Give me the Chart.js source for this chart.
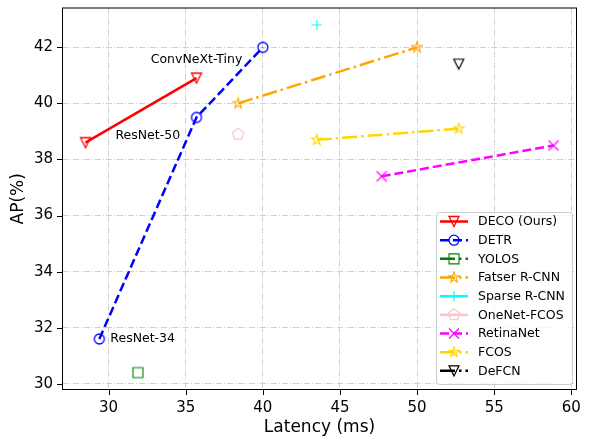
<!DOCTYPE html>
<html>
<head>
<meta charset="utf-8">
<script src="https://cdn.jsdelivr.net/npm/chart.js@4.4.0/dist/chart.umd.min.js"></script>
<style>
  html, body { margin: 0; padding: 0; background: #fff; }
  #wrap { width: 591px; height: 438px; }
</style>
</head>
<body>
<div id="wrap"><canvas id="c" width="591" height="438"></canvas></div>
<script>
// values
const xTicks = [30, 35, 40, 45, 50, 55, 60];
const yTicks = [30, 32, 34, 36, 38, 40, 42];

const decoLatency = [28.5, 35.7];
const decoAP = [38.6, 40.9];
const detrLatency = [29.4, 35.7, 40.0];
const detrAP = [31.6, 39.5, 42.0];
const yolosLatency = [31.9];
const yolosAP = [30.4];
const fasterLatency = [38.4, 50.0];
const fasterAP = [40.0, 42.0];
const sparseLatency = [43.5];
const sparseAP = [42.8];
const onenetLatency = [38.4];
const onenetAP = [38.9];
const retinaLatency = [47.7, 58.85];
const retinaAP = [37.4, 38.5];
const fcosLatency = [43.5, 52.7];
const fcosAP = [38.7, 39.1];
const defcnLatency = [52.7];
const defcnAP = [41.4];

const noteText = ['ConvNeXt-Tiny', 'ResNet-50', 'ResNet-34'];
const noteLatency = [35.7, 28.5, 29.4];
const noteAP = [40.9, 38.6, 31.6];

const FONT = "'DejaVu Sans', 'Liberation Sans', sans-serif";
const DASHED = [9, 4];
const DASHDOT = [15, 4, 2.5, 4];

function pts(xs, ys) {
  return xs.map((x, i) => ({ x: x, y: ys[i] }));
}

// matplotlib-like hollow markers
function drawMarker(g, kind, cx, cy, size, color, lw) {
  const r = size / 2;
  g.save();
  g.strokeStyle = color;
  g.lineWidth = lw;
  g.setLineDash([]);
  g.beginPath();
  if (kind === 'v') {
    g.moveTo(cx - r, cy - r); g.lineTo(cx + r, cy - r); g.lineTo(cx, cy + r); g.closePath();
  } else if (kind === 'o') {
    g.arc(cx, cy, r, 0, Math.PI * 2);
  } else if (kind === 's') {
    g.rect(cx - r, cy - r, size, size);
  } else if (kind === '+') {
    g.moveTo(cx - r, cy); g.lineTo(cx + r, cy); g.moveTo(cx, cy - r); g.lineTo(cx, cy + r);
  } else if (kind === 'x') {
    g.moveTo(cx - r, cy - r); g.lineTo(cx + r, cy + r); g.moveTo(cx + r, cy - r); g.lineTo(cx - r, cy + r);
  } else {
    const n = kind === '*' ? 10 : 5;
    for (let i = 0; i < n; i++) {
      const a = -Math.PI / 2 + i * Math.PI * 2 / n;
      const rr = (kind === '*' && i % 2) ? r * 0.381966 : r;
      const px = cx + rr * Math.cos(a), py = cy + rr * Math.sin(a);
      if (i === 0) g.moveTo(px, py); else g.lineTo(px, py);
    }
    g.closePath();
  }
  g.stroke();
  g.restore();
}

function makeMarker(kind, color, size, lw) {
  const dim = 2 * Math.ceil((size + lw * 2 + 2) / 2);
  const cv = document.createElement('canvas');
  cv.width = dim; cv.height = dim;
  drawMarker(cv.getContext('2d'), kind, dim / 2, dim / 2, size, color, lw);
  return cv;
}

const styles = [
  { label: 'DECO (Ours)', color: '#ff0000', dash: [], kind: 'v', size: 10, mlw: 1.3 },
  { label: 'DETR', color: '#0000ff', dash: DASHED, kind: 'o', size: 10, mlw: 1.3 },
  { label: 'YOLOS', color: '#008000', dash: DASHDOT, kind: 's', size: 10, mlw: 1.1 },
  { label: 'Fatser R-CNN', color: '#ffa500', dash: DASHDOT, kind: '*', size: 11, mlw: 1.1 },
  { label: 'Sparse R-CNN', color: '#00ffff', dash: [], kind: '+', size: 10, mlw: 1.2 },
  { label: 'OneNet-FCOS', color: '#ffc0cb', dash: [], kind: 'p', size: 12, mlw: 1.2 },
  { label: 'RetinaNet', color: '#ff00ff', dash: DASHED, kind: 'x', size: 10, mlw: 1.2 },
  { label: 'FCOS', color: '#ffd700', dash: DASHDOT, kind: '*', size: 11, mlw: 1.1 },
  { label: 'DeFCN', color: '#000000', dash: DASHDOT, kind: 'v', size: 10, mlw: 1.2 }
];
const seriesData = [
  pts(decoLatency, decoAP), pts(detrLatency, detrAP), pts(yolosLatency, yolosAP),
  pts(fasterLatency, fasterAP), pts(sparseLatency, sparseAP), pts(onenetLatency, onenetAP),
  pts(retinaLatency, retinaAP), pts(fcosLatency, fcosAP), pts(defcnLatency, defcnAP)
];

const datasets = styles.map((s, i) => ({
  label: s.label,
  data: seriesData[i],
  showLine: true,
  borderColor: s.color,
  borderWidth: 2.5,
  borderDash: s.dash,
  backgroundColor: s.color,
  pointStyle: makeMarker(s.kind, s.color, s.size, s.mlw),
  pointRadius: 5,
  pointHoverRadius: 5
}));

const extras = {
  id: 'extras',
  afterDatasetsDraw(chart) {
    const { ctx, chartArea: a, scales: { x, y } } = chart;
    ctx.save();
    // annotations
    ctx.font = '12.5px ' + FONT;
    ctx.fillStyle = '#000';
    ctx.textBaseline = 'middle';
    const offs = [[0, -18, 'center'], [30, -7, 'left'], [11, 0, 'left']];
    noteText.forEach((t, i) => {
      ctx.textAlign = offs[i][2];
      ctx.fillText(t, x.getPixelForValue(noteLatency[i]) + offs[i][0], y.getPixelForValue(noteAP[i]) + offs[i][1]);
    });
    // frame and tick marks
    ctx.strokeStyle = '#000';
    ctx.lineWidth = 1;
    ctx.strokeRect(a.left + 0.5, a.top + 0.5, a.right - a.left - 1, a.bottom - a.top - 1);
    ctx.beginPath();
    xTicks.forEach(v => {
      const p = Math.round(x.getPixelForValue(v)) + 0.5;
      ctx.moveTo(p, a.bottom); ctx.lineTo(p, a.bottom + 5);
    });
    yTicks.forEach(v => {
      const p = Math.round(y.getPixelForValue(v)) + 0.5;
      ctx.moveTo(a.left - 5, p); ctx.lineTo(a.left, p);
    });
    ctx.stroke();

    // legend
    const bx = 436, by = 212, bw = 136, bh = 172;
    ctx.beginPath();
    ctx.roundRect(bx + 0.5, by + 0.5, bw, bh, 3);
    ctx.fillStyle = 'rgba(255,255,255,0.8)';
    ctx.fill();
    ctx.strokeStyle = '#cccccc';
    ctx.stroke();
    ctx.font = '12.5px ' + FONT;
    ctx.textAlign = 'left';
    styles.forEach((s, i) => {
      const ry = by + 9.5 + i * 18.67;
      ctx.save();
      ctx.strokeStyle = s.color;
      ctx.lineWidth = 2.5;
      ctx.setLineDash(s.dash);
      ctx.beginPath();
      ctx.moveTo(bx + 4, ry); ctx.lineTo(bx + 32, ry);
      ctx.stroke();
      ctx.restore();
      drawMarker(ctx, s.kind, bx + 18, ry, s.size, s.color, s.mlw);
      ctx.fillStyle = '#000';
      ctx.fillText(s.label, bx + 42, ry + 0.5);
    });
    ctx.restore();
  }
};

function noPad(s) {
  s.paddingTop = 0; s.paddingBottom = 0; s.paddingLeft = 0; s.paddingRight = 0;
}

new Chart(document.getElementById('c'), {
  type: 'scatter',
  data: { datasets: datasets },
  options: {
    responsive: false,
    animation: false,
    events: [],
    layout: { padding: { top: 6, right: 14, left: 0, bottom: 0 } },
    plugins: { legend: { display: false }, tooltip: { enabled: false } },
    scales: {
      x: {
        type: 'linear',
        min: 26.98,
        max: 60.37,
        afterBuildTicks: s => { s.ticks = xTicks.map(v => ({ value: v })); },
        afterFit: s => { s.height = 48; noPad(s); },
        grid: { color: '#cfcfcf', lineWidth: 1, drawTicks: false },
        border: { display: false, dash: [6, 2, 1, 2] },
        ticks: { color: '#000', padding: 9, font: { family: FONT, size: 15 }, callback: v => String(v) },
        title: { display: true, text: 'Latency (ms)', color: '#000', padding: 0, font: { family: FONT, size: 17 } }
      },
      y: {
        type: 'linear',
        min: 29.78,
        max: 43.42,
        afterBuildTicks: s => { s.ticks = yTicks.map(v => ({ value: v })); },
        afterFit: s => { s.width = 62; noPad(s); },
        grid: { color: '#cfcfcf', lineWidth: 1, drawTicks: false },
        border: { display: false, dash: [6, 2, 1, 2] },
        ticks: { color: '#000', padding: 9, font: { family: FONT, size: 15 }, callback: v => String(v) },
        title: { display: true, text: 'AP(%)', color: '#000', padding: { top: 8, bottom: 0 }, font: { family: FONT, size: 17 } }
      }
    }
  },
  plugins: [extras]
});
</script>
</body>
</html>
